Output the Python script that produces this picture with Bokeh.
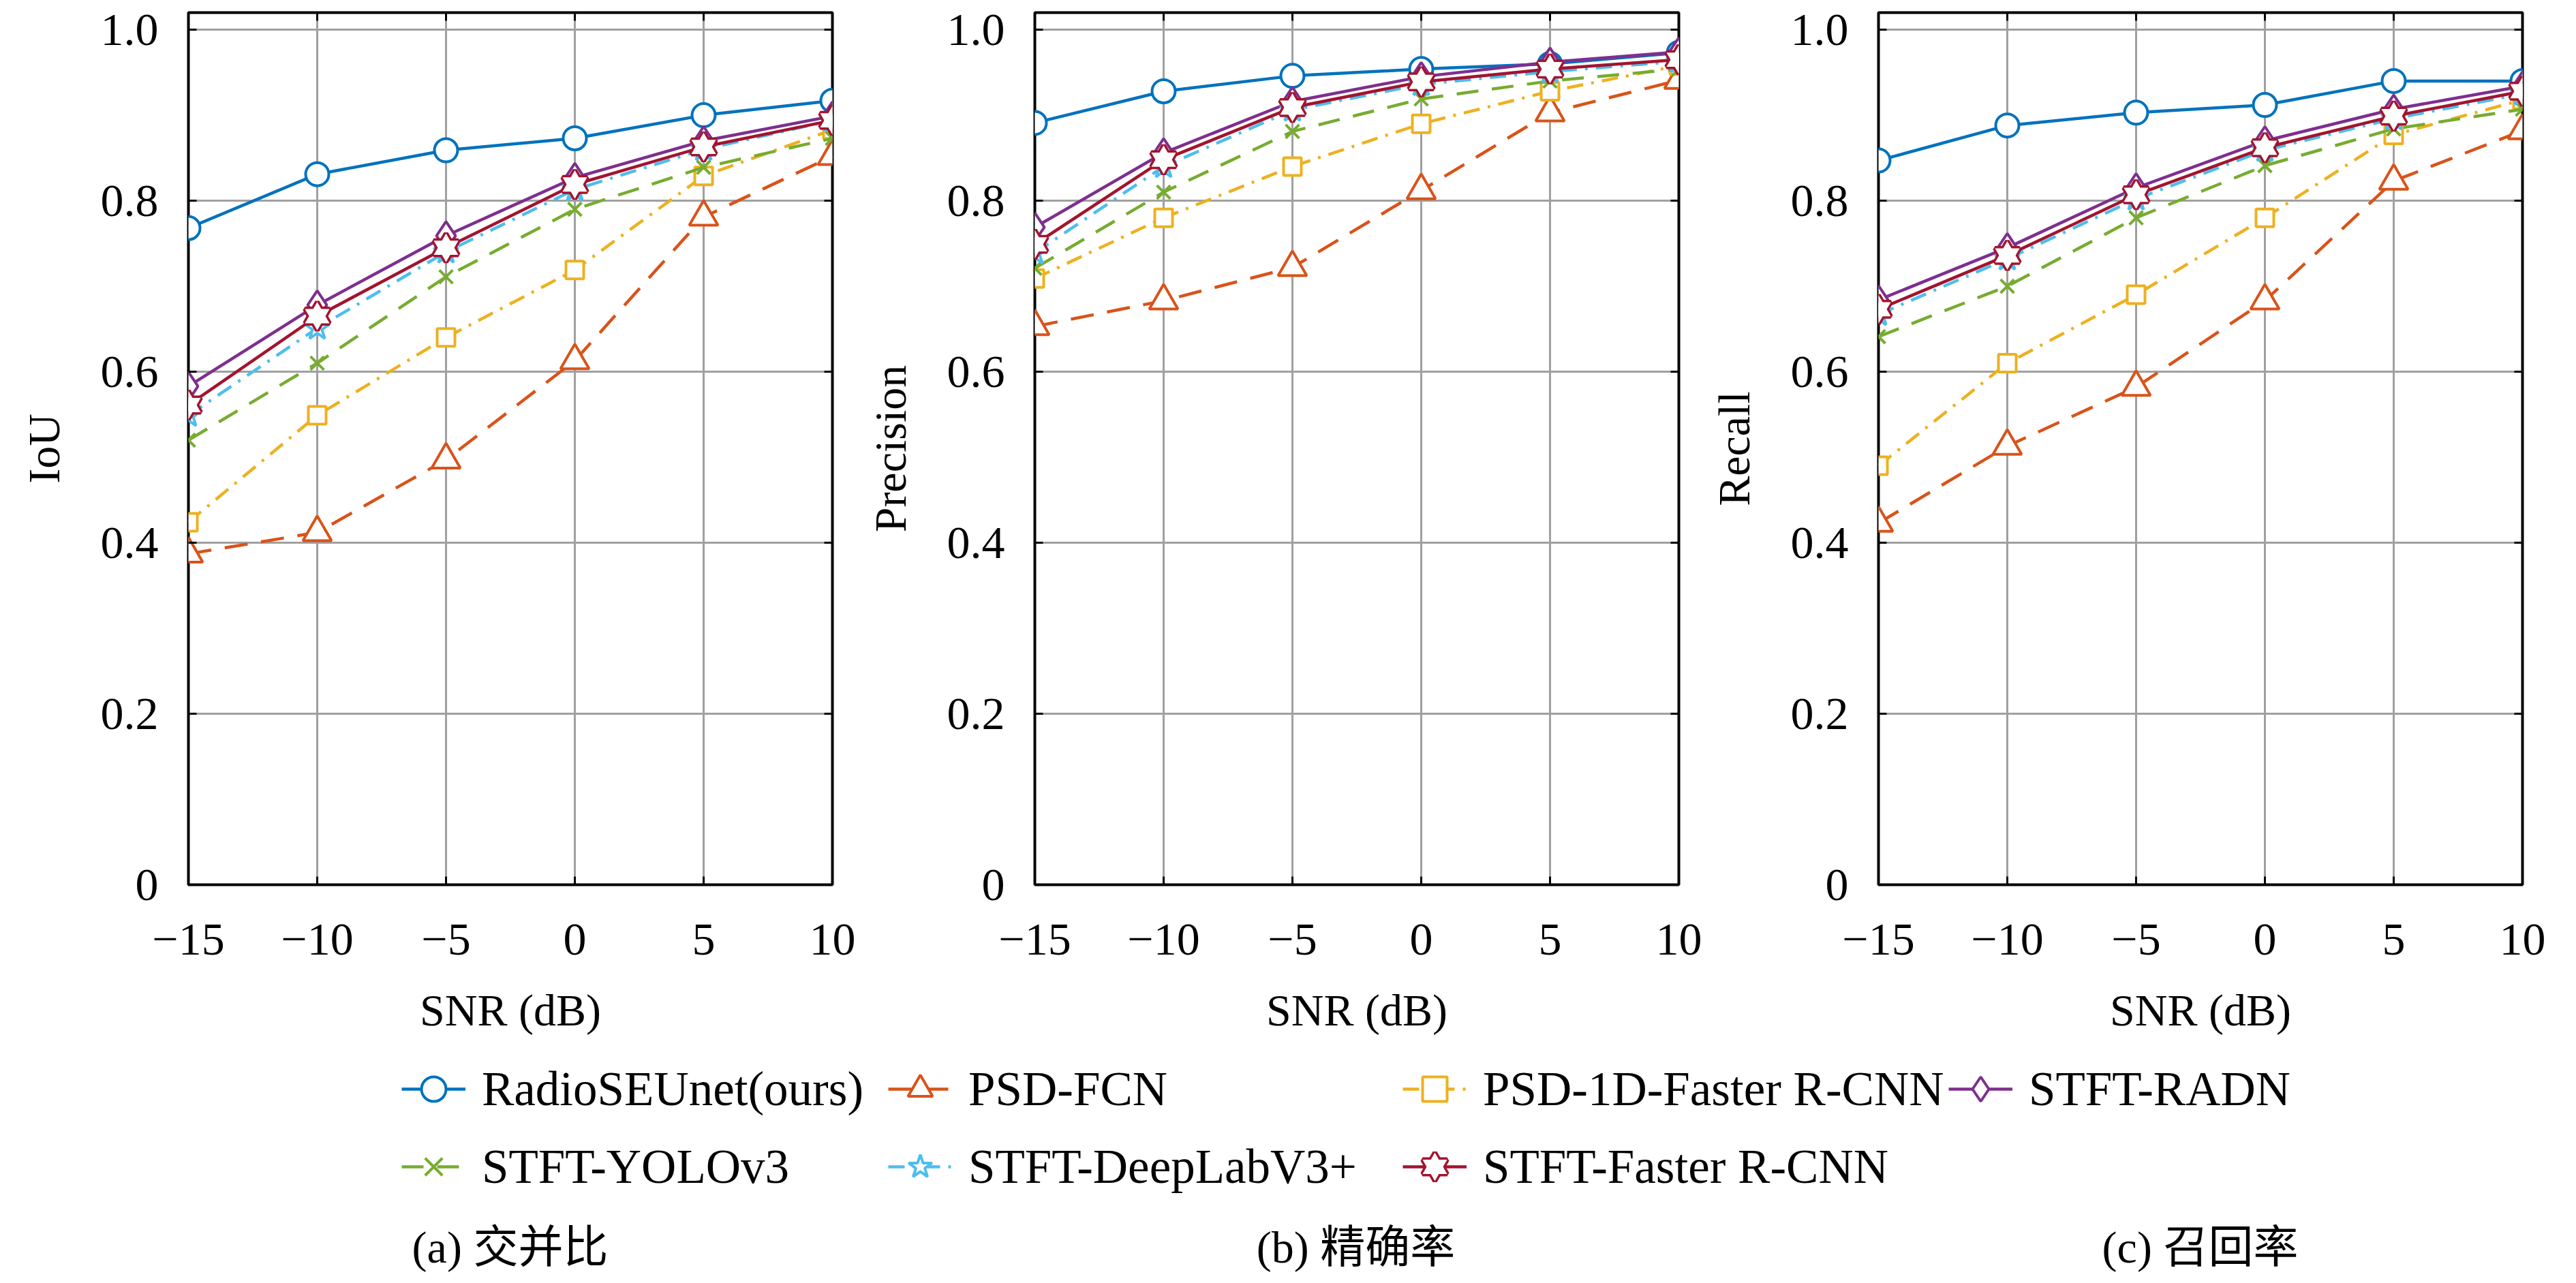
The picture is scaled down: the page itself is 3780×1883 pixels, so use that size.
from bokeh.plotting import figure
from bokeh.models import (Range1d, FixedTicker, CustomJSTickFormatter, LinearAxis,
                          Legend, LegendItem, ColumnDataSource)
from bokeh.layouts import column, row
from bokeh.embed import file_html
from bokeh.resources import INLINE
from bokeh.core.properties import value

# ---------------- data ----------------
snr = [-15, -10, -5, 0, 5, 10]
x_ticks = [-15, -10, -5, 0, 5, 10]
y_ticks = [0, 0.2, 0.4, 0.6, 0.8, 1.0]

methods = ["RadioSEUnet(ours)", "PSD-FCN", "PSD-1D-Faster R-CNN", "STFT-RADN",
           "STFT-YOLOv3", "STFT-DeepLabV3+", "STFT-Faster R-CNN"]

iou_radioseunet = [0.768, 0.831, 0.859, 0.873, 0.900, 0.917]
iou_psd_fcn = [0.387, 0.412, 0.497, 0.613, 0.781, 0.852]
iou_psd_1d_frcnn = [0.424, 0.549, 0.640, 0.719, 0.829, 0.883]
iou_stft_radn = [0.583, 0.678, 0.759, 0.827, 0.870, 0.899]
iou_stft_yolov3 = [0.520, 0.610, 0.711, 0.790, 0.839, 0.873]
iou_stft_deeplab = [0.549, 0.651, 0.740, 0.813, 0.860, 0.894]
iou_stft_frcnn = [0.561, 0.665, 0.745, 0.819, 0.863, 0.894]

prec_radioseunet = [0.891, 0.928, 0.946, 0.954, 0.960, 0.973]
prec_psd_fcn = [0.653, 0.683, 0.722, 0.812, 0.903, 0.941]
prec_psd_1d_frcnn = [0.709, 0.780, 0.840, 0.890, 0.928, 0.958]
prec_stft_radn = [0.769, 0.856, 0.916, 0.945, 0.962, 0.974]
prec_stft_yolov3 = [0.721, 0.810, 0.881, 0.919, 0.940, 0.954]
prec_stft_deeplab = [0.739, 0.840, 0.906, 0.936, 0.951, 0.963]
prec_stft_frcnn = [0.749, 0.848, 0.909, 0.939, 0.954, 0.965]

rec_radioseunet = [0.847, 0.888, 0.903, 0.912, 0.940, 0.940]
rec_psd_fcn = [0.423, 0.513, 0.582, 0.683, 0.823, 0.882]
rec_psd_1d_frcnn = [0.490, 0.610, 0.690, 0.780, 0.877, 0.918]
rec_stft_radn = [0.684, 0.745, 0.815, 0.870, 0.907, 0.934]
rec_stft_yolov3 = [0.641, 0.700, 0.780, 0.841, 0.884, 0.907]
rec_stft_deeplab = [0.667, 0.732, 0.802, 0.859, 0.896, 0.925]
rec_stft_frcnn = [0.673, 0.736, 0.807, 0.862, 0.899, 0.928]

panel_ylabels = ["IoU", "Precision", "Recall"]
captions = ["(a) 交并比", "(b) 精确率", "(c) 召回率"]
x_label = "SNR (dB)"

panel_data = [
    [iou_radioseunet, iou_psd_fcn, iou_psd_1d_frcnn, iou_stft_radn,
     iou_stft_yolov3, iou_stft_deeplab, iou_stft_frcnn],
    [prec_radioseunet, prec_psd_fcn, prec_psd_1d_frcnn, prec_stft_radn,
     prec_stft_yolov3, prec_stft_deeplab, prec_stft_frcnn],
    [rec_radioseunet, rec_psd_fcn, rec_psd_1d_frcnn, rec_stft_radn,
     rec_stft_yolov3, rec_stft_deeplab, rec_stft_frcnn],
]

# ---------------- styles ----------------
colors = ["#0072BD", "#D95319", "#EDB120", "#7E2F8E", "#77AC30", "#4DBEEE", "#A2142F"]
dashes = ["solid", "34 20", "24 12 4 12", "solid", "32 20", "24 12 4 12", "solid"]
markers = ["circle", "triangle", "square", "diamond", "x", "star", "hexagram"]
msizes = [34, 42, 26, 42, 28, 38, 36]

SERIF = "Liberation Serif"
LW = 4.5

frame_w, frame_h = 945, 1280
left_borders = [276, 257, 253]
top_border = 18
bottom_border = 240


def draw_series(p, xs, ys, i, visible=True):
    c = colors[i]
    src = ColumnDataSource(dict(x=xs, y=ys))
    rl = p.line("x", "y", source=src, line_color=c, line_width=LW, line_dash=dashes[i],
                visible=visible)
    rs = []
    m = markers[i]
    if m == "hexagram":
        for mk in ("triangle", "inverted_triangle"):
            rs.append(p.scatter("x", "y", source=src, marker=mk, size=msizes[i],
                                line_color=c, fill_color="white", line_width=7,
                                visible=visible))
        for mk in ("triangle", "inverted_triangle"):
            rs.append(p.scatter("x", "y", source=src, marker=mk, size=msizes[i],
                                line_color=None, fill_color="white", visible=visible))
    else:
        rs.append(p.scatter("x", "y", source=src, marker=m, size=msizes[i],
                            line_color=c, fill_color="white", line_width=4,
                            visible=visible))
    return [rl] + rs


def style_axis(ax, show_labels, fs="68px"):
    ax.axis_line_color = None
    ax.major_tick_in = 12
    ax.major_tick_out = 0
    ax.major_tick_line_color = "black"
    ax.major_tick_line_width = 3
    ax.minor_tick_line_color = None
    ax.major_label_text_font = SERIF
    ax.major_label_text_color = "black"
    ax.axis_label_text_font = SERIF
    ax.axis_label_text_font_style = "normal"
    ax.axis_label_text_color = "black"
    ax.axis_label_text_font_size = "66px"
    if show_labels:
        ax.major_label_text_font_size = fs
    else:
        ax.major_label_text_font_size = "0px"
        ax.major_label_standoff = 0
        ax.formatter = CustomJSTickFormatter(code="return '';")


panels = []
for k in range(3):
    p = figure(frame_width=frame_w, frame_height=frame_h,
               x_range=Range1d(-15, 10), y_range=Range1d(0, 1.02),
               output_backend="svg", toolbar_location=None,
               min_border_left=left_borders[k], min_border_right=40,
               min_border_top=top_border, min_border_bottom=bottom_border)
    p.background_fill_color = "white"
    p.border_fill_color = "white"
    p.outline_line_color = "black"
    p.outline_line_width = 4
    p.outline_line_alpha = 1

    xt = FixedTicker(ticks=x_ticks)
    yt = FixedTicker(ticks=y_ticks)
    p.xaxis.ticker = xt
    p.yaxis.ticker = yt
    p.xaxis.formatter = CustomJSTickFormatter(
        code="return tick < 0 ? '\u2212' + (-tick) : String(tick);")
    p.yaxis.formatter = CustomJSTickFormatter(
        code="return tick == 0 ? '0' : tick.toFixed(1);")
    for ax in p.xaxis:
        style_axis(ax, True)
        ax.major_label_standoff = 58
        ax.axis_label_standoff = 42
    for ax in p.yaxis:
        style_axis(ax, True)
        ax.major_label_standoff = 44
        ax.axis_label_standoff = 44
    p.xaxis.axis_label = x_label
    p.yaxis.axis_label = panel_ylabels[k]

    right_ax = LinearAxis(ticker=FixedTicker(ticks=y_ticks))
    style_axis(right_ax, False)
    p.add_layout(right_ax, "right")
    top_ax = LinearAxis(ticker=FixedTicker(ticks=x_ticks))
    style_axis(top_ax, False)
    p.add_layout(top_ax, "above")

    p.xgrid.ticker = xt
    p.ygrid.ticker = yt
    for g in (p.xgrid[0], p.ygrid[0]):
        g.grid_line_color = "#A0A0A0"
        g.grid_line_width = 3
        g.grid_line_alpha = 1

    for i in range(len(methods)):
        draw_series(p, snr, panel_data[k][i], i)
    panels.append(p)

# ---------------- legend + captions ----------------
total_w = sum(frame_w + lb + 40 for lb in left_borders)
row_end = 8 + top_border + frame_h + bottom_border
bot_h = 1875 - row_end
lf = figure(width=total_w, height=bot_h, x_range=Range1d(8, 8 + total_w),
            y_range=Range1d(bot_h, 0), output_backend="svg", toolbar_location=None,
            x_axis_type=None, y_axis_type=None, min_border=0)
lf.outline_line_color = None
lf.grid.visible = False
lf.background_fill_color = "white"
lf.border_fill_color = "white"

items = []
for i, name in enumerate(methods):
    rends = draw_series(lf, snr, panel_data[0][i], i, visible=False)
    items.append(LegendItem(label=name, renderers=rends))

# legend columns (row-major order: 4 columns)
item_h, item_gap = 90, 24
row1_center = 1606 - row_end
col_members = [[0, 4], [1, 5], [2, 6], [3]]
col_x = [589, 1303, 2058, 2859]
for members, cx in zip(col_members, col_x):
    n = len(members)
    hgt = n * item_h + (n - 1) * item_gap
    top = row1_center - item_h // 2
    leg = Legend(items=[items[m] for m in members], location=(cx, bot_h - top - hgt),
                 orientation="vertical", glyph_width=94, glyph_height=item_h,
                 label_height=item_h, label_standoff=24, spacing=item_gap,
                 padding=0, margin=0,
                 border_line_color=None, background_fill_alpha=0,
                 inactive_fill_alpha=0,
                 label_text_font=SERIF, label_text_font_size="71px",
                 label_text_color="black")
    lf.add_layout(leg)

cap_x = [756, 1997, 3236]
cap_y = 1838 - row_end
lf.text(x=cap_x, y=[cap_y] * 3, text=captions,
        text_font=value("'Liberation Serif', 'Noto Sans CJK SC'"),
        text_font_size="66px", text_align="center", text_baseline="middle",
        text_color="black")

layout = column(row(*panels), lf)
open("out.html", "w").write(file_html(layout, INLINE))
